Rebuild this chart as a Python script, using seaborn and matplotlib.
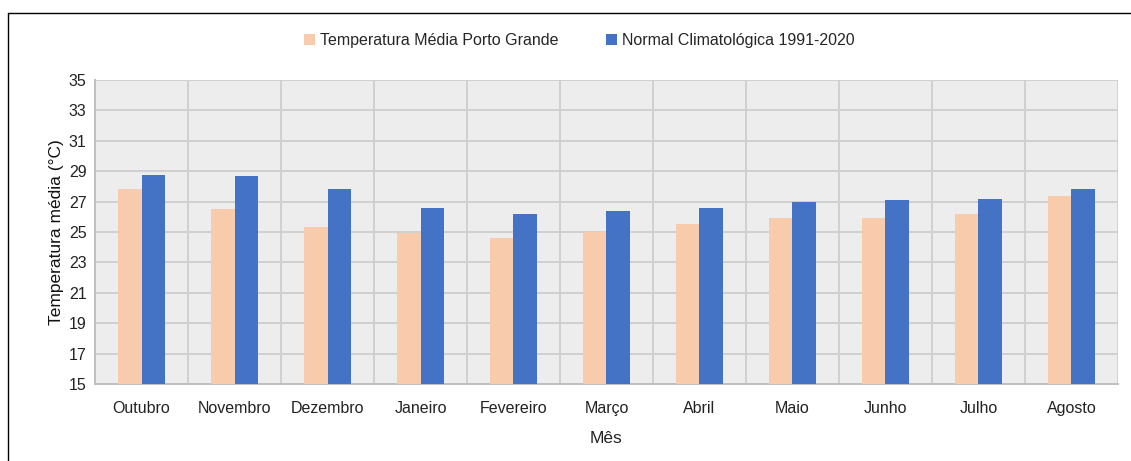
import matplotlib
matplotlib.use("Agg")
import matplotlib.pyplot as plt
import matplotlib.patches as mpatches
import matplotlib.lines as mlines
import numpy as np
import pandas as pd
import seaborn as sns

meses = ["Outubro", "Novembro", "Dezembro", "Janeiro", "Fevereiro", "Março",
         "Abril", "Maio", "Junho", "Julho", "Agosto"]
temp_media = [27.85, 26.5, 25.3, 24.95, 24.6, 25.0, 25.55, 25.95, 25.9, 26.2, 27.35]
normal_clim = [28.75, 28.7, 27.8, 26.6, 26.2, 26.4, 26.6, 26.95, 27.1, 27.15, 27.85]
series = ["Temperatura Média Porto Grande", "Normal Climatológica 1991-2020"]
cores = ["#F8CBAD", "#4472C4"]
y_ticks = list(range(15, 36, 2))

df = pd.DataFrame({
    "Mês": meses * 2,
    "valor": temp_media + normal_clim,
    "serie": [series[0]] * len(meses) + [series[1]] * len(meses),
})

sns.set_theme(style="white")
plt.rcParams["font.family"] = ["Liberation Sans", "DejaVu Sans"]

fig = plt.figure(figsize=(11.31, 4.61), dpi=100)
ax = fig.add_axes([0.084, 0.167, 0.9045, 0.6595])
ax.set_facecolor("#EDEDED")

sns.barplot(data=df, x="Mês", y="valor", hue="serie", palette=cores,
            width=0.5, saturation=1, ax=ax, legend=False, zorder=3,
            linewidth=0)

ax.set_ylim(15, 35)
ax.set_xlim(-0.5, len(meses) - 0.5)
ax.set_yticks(y_ticks)
ax.set_yticklabels([str(t) for t in y_ticks], fontsize=11.5, color="#222222")
ax.tick_params(axis="x", labelsize=11.5, colors="#222222", length=0, pad=12)
ax.tick_params(axis="y", length=0, pad=6)

ax.set_xticks(np.arange(-0.5, len(meses), 1.0), minor=True)
ax.grid(axis="y", which="major", color="#D0D0D0", linewidth=1.4, zorder=0)
ax.grid(axis="x", which="minor", color="#D0D0D0", linewidth=1.4, zorder=0)
ax.tick_params(axis="x", which="minor", length=0)
ax.set_axisbelow(True)

for s in ["top", "right"]:
    ax.spines[s].set_visible(False)
for s in ["left", "bottom"]:
    ax.spines[s].set_color("#BFBFBF")
    ax.spines[s].set_linewidth(1.4)

ax.set_xlabel("Mês", fontsize=12.5, color="#222222")
ax.set_ylabel("Temperatura média (°C)", fontsize=12.5, color="#111111")
ax.xaxis.set_label_coords(0.5, -0.155)
ax.yaxis.set_label_coords(-0.03, 0.5)

handles = [mpatches.Patch(facecolor=c, edgecolor="none") for c in cores]
fig.legend(handles, series, loc="center", bbox_to_anchor=(0.512, 0.912), ncol=2,
           frameon=False, fontsize=11.5, handlelength=0.7, handleheight=0.7,
           handletextpad=0.3, columnspacing=3.0)

# open frame: top and left edges only
x0, y0 = 8 / 1131, 1 - 13.5 / 461
fig.lines.append(mlines.Line2D([x0, 1.0], [y0, y0], transform=fig.transFigure,
                               color="black", linewidth=1.0))
fig.lines.append(mlines.Line2D([x0, x0], [0.0, y0], transform=fig.transFigure,
                               color="black", linewidth=1.0))

fig.savefig("out.png", dpi=100)
